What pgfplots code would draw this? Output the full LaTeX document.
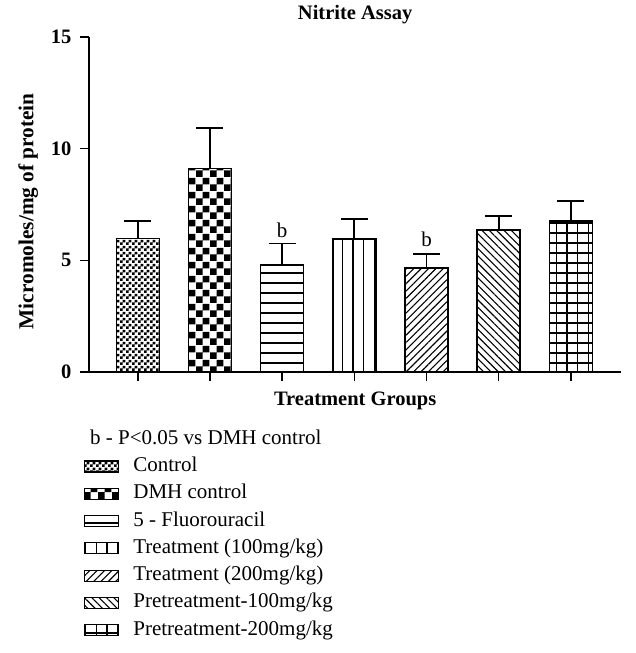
\documentclass[border=0pt]{standalone}
\usepackage{fontspec}
\setmainfont{Liberation Serif}
\usepackage{pgfplots}
\pgfplotsset{compat=1.18}
\usetikzlibrary{patterns,patterns.meta}

\pgfdeclarepatternformonly{smallchecker}{\pgfpointorigin}{\pgfqpoint{6pt}{6pt}}{\pgfqpoint{6pt}{6pt}}{%
  \pgfpathrectangle{\pgfpointorigin}{\pgfqpoint{3pt}{3pt}}%
  \pgfpathrectangle{\pgfqpoint{3pt}{3pt}}{\pgfqpoint{3pt}{3pt}}%
  \pgfusepath{fill}}
\pgfdeclarepatternformonly{bigchecker}{\pgfpointorigin}{\pgfqpoint{14pt}{14pt}}{\pgfqpoint{14pt}{14pt}}{%
  \pgfpathrectangle{\pgfpointorigin}{\pgfqpoint{7pt}{7pt}}%
  \pgfpathrectangle{\pgfqpoint{7pt}{7pt}}{\pgfqpoint{7pt}{7pt}}%
  \pgfusepath{fill}}

\newcommand{\fnt}{\fontsize{20.5}{24}\selectfont}
\newcommand{\lfnt}{\fontsize{21}{24}\selectfont}

\begin{document}
\begin{tikzpicture}
\path[use as bounding box] (-89pt,-281pt) rectangle (547pt,372pt);
\begin{axis}[
  name=ax,
  at={(0,0)}, anchor=south west,
  scale only axis,
  width=532.4pt, height=335pt,
  xmin=-0.676, xmax=6.70,
  ymin=0, ymax=15,
  axis x line=bottom, axis y line=left,
  axis line style={line width=1.8pt, -},
  ytick={0,5,10,15},
  xtick={0,1,2,3,4,5,6},
  xticklabels={{},{},{},{},{},{},{}},
  tick align=outside,
  major tick length=9pt,
  tick style={line width=1.5pt, black},
  /pgf/number format/assume math mode=true,
  yticklabel style={font=\fnt\bfseries, xshift=-5pt},
  ybar, bar width=43pt, bar shift=0pt,
  title={Nitrite Assay},
  title style={font=\fnt\bfseries, at={(axis description cs:0.5,1.05)}, anchor=center},
  xlabel={Treatment Groups},
  xlabel style={font=\fnt\bfseries, at={(axis description cs:0.5,-0.085)}, anchor=center},
  ylabel={Micromoles/mg of protein},
  ylabel style={font=\fontsize{21.3}{24}\selectfont\bfseries, at={(axis description cs:-0.114,0.48)}, anchor=center},
  error bars/y dir=plus,
  error bars/y explicit,
  error bars/error bar style={line width=1.8pt, black},
  error bars/error mark options={line width=1.8pt, black, mark size=13.5pt, rotate=90},
  legend style={at={(axis description cs:-0.0094,-0.2516)}, anchor=north west,
    draw=none, fill=none, inner sep=0pt, row sep=7.3pt, font=\lfnt,
    nodes={inner sep=0pt, text height=15pt, text depth=5pt},
    /tikz/every odd column/.append style={column sep=14pt}},
  legend cell align=left,
  legend image code/.code={\draw[#1, line width=1.2pt] (0pt,-5.5pt) rectangle (34pt,5.5pt);},
  clip=false,
]
\addplot[draw=black, line width=1.5pt, pattern=smallchecker] coordinates {(0,5.97) +- (0,0.78)};
\addlegendentry{Control}
\addplot[draw=black, line width=1.5pt, pattern=bigchecker] coordinates {(1,9.11) +- (0,1.83)};
\addlegendentry{DMH control}
\addplot[draw=black, line width=1.5pt, pattern={Lines[angle=0,distance=10pt,line width=1.3pt]}] coordinates {(2,4.78) +- (0,0.97)};
\addlegendentry{5 - Fluorouracil}
\addplot[draw=black, line width=1.5pt, pattern={Lines[angle=90,distance=10.7pt,line width=1.3pt]}] coordinates {(3,5.96) +- (0,0.89)};
\addlegendentry{Treatment (100mg/kg)}
\addplot[draw=black, line width=1.5pt, pattern={Lines[angle=45,distance=5.2pt,line width=1.1pt]}] coordinates {(4,4.66) +- (0,0.61)};
\addlegendentry{Treatment (200mg/kg)}
\addplot[draw=black, line width=1.5pt, pattern={Lines[angle=-45,distance=5.2pt,line width=1.1pt]}] coordinates {(5,6.35) +- (0,0.62)};
\addlegendentry{Pretreatment-100mg/kg}
\addplot[draw=black, line width=1.5pt, pattern={Lines[angle=90,distance=10.7pt,line width=1.3pt]}, postaction={pattern={Lines[angle=0,distance=10pt,line width=1.3pt]}}] coordinates {(6,6.76) +- (0,0.90)};
\addlegendentry{Pretreatment-200mg/kg}
\node[font=\lfnt, anchor=base] at (axis cs:2,6.03) {b};
\node[font=\lfnt, anchor=base] at (axis cs:4,5.63) {b};
\end{axis}
\node[font=\lfnt, anchor=base west, inner sep=0pt] at ([shift={(1pt,-72.3pt)}]ax.south west) {b - P<0.05 vs DMH control};
\end{tikzpicture}
\end{document}
